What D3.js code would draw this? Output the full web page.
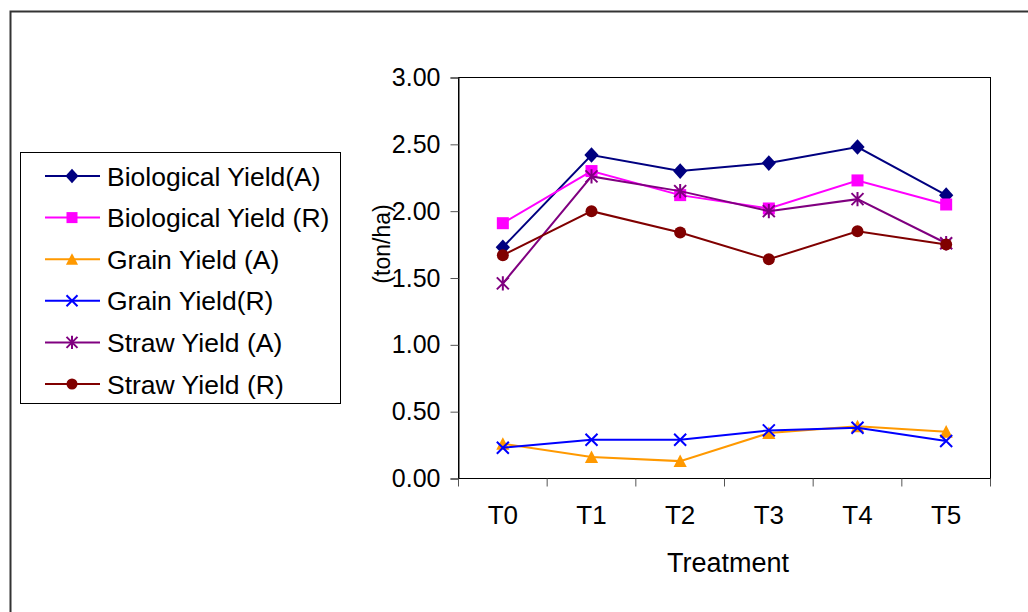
<!DOCTYPE html>
<html>
<head>
<meta charset="utf-8">
<script src="https://cdn.jsdelivr.net/npm/d3@7"></script>
<style>
  body { margin: 0; background: #fff; }
  text { font-family: Arial, "Liberation Sans", sans-serif; fill: #000; }
</style>
</head>
<body>
<svg width="1028" height="612"></svg>
<script>
const treatments = ["T0", "T1", "T2", "T3", "T4", "T5"];
const y_ticks = [0, 0.5, 1, 1.5, 2, 2.5, 3];

const bio_a = [1.73, 2.42, 2.30, 2.36, 2.48, 2.12];
const bio_r = [1.91, 2.30, 2.12, 2.02, 2.23, 2.05];
const grain_a = [0.26, 0.16, 0.13, 0.34, 0.39, 0.35];
const grain_r = [0.23, 0.29, 0.29, 0.36, 0.38, 0.28];
const straw_a = [1.46, 2.26, 2.15, 2.00, 2.09, 1.76];
const straw_r = [1.67, 2.00, 1.84, 1.64, 1.85, 1.75];

const series = [
    { name: "Biological Yield(A)", values: bio_a, color: "#000080", marker: "diamond" },
    { name: "Biological Yield (R)", values: bio_r, color: "#FF00FF", marker: "square" },
    { name: "Grain Yield (A)", values: grain_a, color: "#FF9900", marker: "triangle" },
    { name: "Grain Yield(R)", values: grain_r, color: "#0000FF", marker: "x" },
    { name: "Straw Yield (A)", values: straw_a, color: "#800080", marker: "star" },
    { name: "Straw Yield (R)", values: straw_r, color: "#800000", marker: "circle" }
];

const svg = d3.select("svg");

// outer chart border (left + top visible)
svg.append("rect")
    .attr("x", 10.5).attr("y", 11.5)
    .attr("width", 1040).attr("height", 640)
    .attr("fill", "none")
    .attr("stroke", "#333")
    .attr("stroke-width", 2);

const plot = { left: 458.5, right: 990.5, top: 77.5, bottom: 478.5 };

const x_scale = d3.scalePoint()
    .domain(treatments)
    .range([plot.left, plot.right])
    .padding(0.5);

const y_scale = d3.scaleLinear()
    .domain([0, 3])
    .range([plot.bottom, plot.top]);

// plot frame
svg.append("rect")
    .attr("x", plot.left).attr("y", plot.top)
    .attr("width", plot.right - plot.left)
    .attr("height", plot.bottom - plot.top)
    .attr("fill", "none")
    .attr("stroke", "#000")
    .attr("stroke-width", 1);

// y axis
const y_axis = svg.append("g")
    .attr("transform", `translate(${plot.left},0)`)
    .call(d3.axisLeft(y_scale).tickValues(y_ticks).tickFormat(d3.format(".2f")).tickSize(8).tickPadding(10));
y_axis.select(".domain").attr("stroke", "#000");
y_axis.selectAll(".tick line").attr("stroke", "#555");
y_axis.selectAll("text").style("font-size", "25px").attr("font-family", null);

// x axis: ticks on category boundaries
const step = x_scale.step();
const boundaries = d3.range(treatments.length + 1).map((i) => plot.left + i * step);
const x_g = svg.append("g");
x_g.append("line")
    .attr("x1", plot.left).attr("x2", plot.right)
    .attr("y1", plot.bottom).attr("y2", plot.bottom)
    .attr("stroke", "#000");
x_g.selectAll("line.tk")
    .data(boundaries)
    .enter()
    .append("line")
    .attr("class", "tk")
    .attr("x1", (d) => d).attr("x2", (d) => d)
    .attr("y1", plot.bottom).attr("y2", plot.bottom + 8)
    .attr("stroke", "#555");
x_g.selectAll("text")
    .data(treatments)
    .enter()
    .append("text")
    .attr("x", (d) => x_scale(d))
    .attr("y", 524)
    .attr("text-anchor", "middle")
    .style("font-size", "26px")
    .text((d) => d);

// axis titles
svg.append("text")
    .attr("x", 728).attr("y", 572)
    .attr("text-anchor", "middle")
    .style("font-size", "27px")
    .text("Treatment");

svg.append("text")
    .attr("transform", "translate(390,244) rotate(-90)")
    .attr("text-anchor", "middle")
    .style("font-size", "23px")
    .text("(ton/ha)");

// markers
const drawMarker = (g, type, color, s) => {
    if (type === "diamond") {
        g.append("path").attr("d", d3.symbol(d3.symbolDiamond2, s * s * 0.9)()).attr("fill", color).attr("transform", "scale(1,1.1)");
    } else if (type === "square") {
        g.append("rect").attr("x", -s / 2).attr("y", -s / 2).attr("width", s).attr("height", s).attr("fill", color);
    } else if (type === "triangle") {
        g.append("path").attr("d", `M0,${-s * 0.55}L${s * 0.55},${s * 0.5}L${-s * 0.55},${s * 0.5}Z`).attr("fill", color);
    } else if (type === "x") {
        const h = s * 0.5;
        g.append("path").attr("d", `M${-h},${-h}L${h},${h}M${-h},${h}L${h},${-h}`).attr("stroke", color).attr("stroke-width", 2).attr("fill", "none");
    } else if (type === "star") {
        const h = s * 0.5;
        g.append("path").attr("d", `M${-h},${-h}L${h},${h}M${-h},${h}L${h},${-h}M0,${-h * 1.2}L0,${h * 1.2}`).attr("stroke", color).attr("stroke-width", 2).attr("fill", "none");
    } else if (type === "circle") {
        g.append("circle").attr("r", s / 2).attr("fill", color);
    }
};

const line = d3.line()
    .x((d, i) => x_scale(treatments[i]))
    .y((d) => y_scale(d));

const lines_g = svg.append("g");
series.forEach((s) => {
    lines_g.append("path")
        .attr("d", line(s.values))
        .attr("fill", "none")
        .attr("stroke", s.color)
        .attr("stroke-width", 2);
    s.values.forEach((v, i) => {
        const g = lines_g.append("g")
            .attr("transform", `translate(${x_scale(treatments[i])},${y_scale(v)})`);
        drawMarker(g, s.marker, s.color, 12);
    });
});

// legend
const legend = svg.append("g");
legend.append("rect")
    .attr("x", 20.5).attr("y", 152.5)
    .attr("width", 320).attr("height", 251)
    .attr("fill", "#fff")
    .attr("stroke", "#000");

series.forEach((s, i) => {
    const y = 176 + i * 41.6;
    const row = legend.append("g");
    row.append("line")
        .attr("x1", 45).attr("x2", 100)
        .attr("y1", y).attr("y2", y)
        .attr("stroke", s.color)
        .attr("stroke-width", 2);
    drawMarker(row.append("g").attr("transform", `translate(72,${y})`), s.marker, s.color, 11);
    row.append("text")
        .attr("x", 107).attr("y", y)
        .attr("dy", "0.36em")
        .style("font-size", "26.5px")
        .text(s.name);
});
</script>
</body>
</html>
